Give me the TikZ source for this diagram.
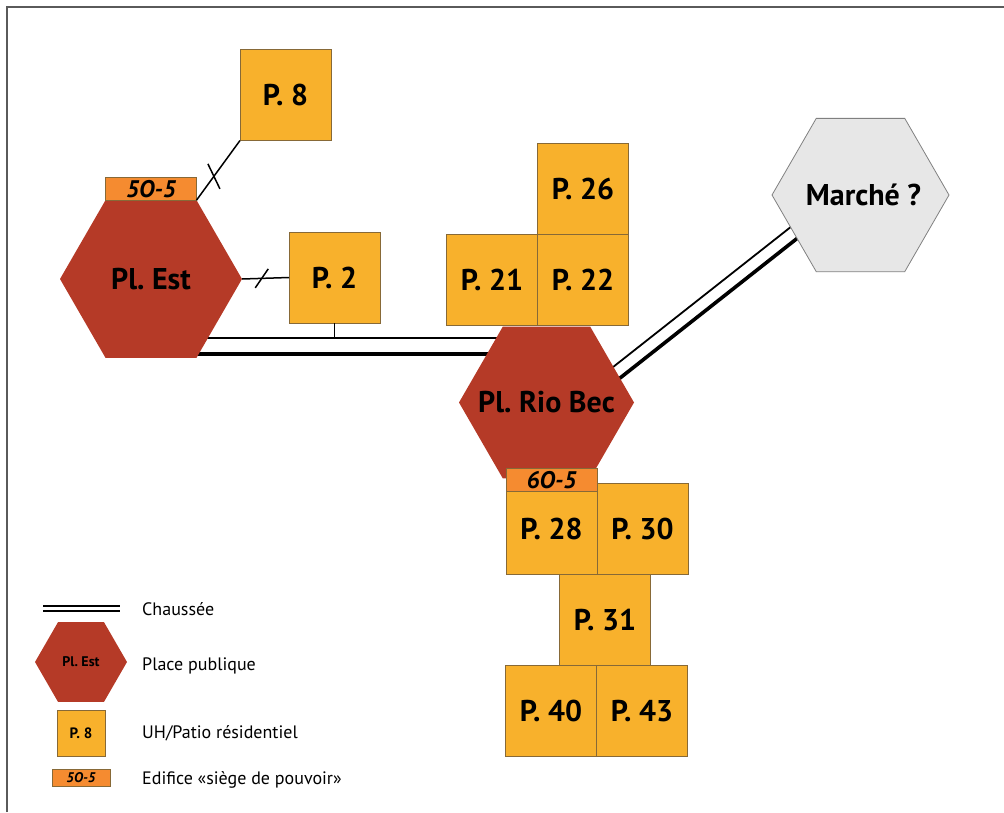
\documentclass[tikz,border=0pt]{standalone}
\usepackage{fontspec}
\setmainfont{PT Sans}
\usetikzlibrary{positioning,calc,shapes.geometric,backgrounds}
\definecolor{patioYel}{RGB}{248,177,44}
\definecolor{patioLine}{RGB}{135,105,55}
\definecolor{plazaRed}{RGB}{181,58,39}
\definecolor{seatOra}{RGB}{245,139,48}
\definecolor{marketGry}{RGB}{231,231,231}
\definecolor{frameGry}{RGB}{90,90,90}
\newcommand{\plfont}{\fontsize{30}{32}\selectfont\bfseries}
\newcommand{\hexlabel}[1]{\makebox[0pt]{#1}}
\tikzset{
  patio/.style={draw=patioLine, line width=0.8pt, fill=patioYel, minimum width=91pt, minimum height=91pt, inner sep=0pt, outer sep=0pt, font=\plfont},
  plaza/.style={regular polygon, regular polygon sides=6, fill=plazaRed, minimum size=182pt, inner sep=0pt, outer sep=0pt, font=\plfont},
  market/.style={regular polygon, regular polygon sides=6, draw=gray, fill=marketGry, line width=0.8pt, minimum size=177pt, inner sep=0pt, outer sep=0pt, font=\plfont},
  seat/.style={draw=patioLine, line width=0.6pt, fill=seatOra, minimum width=91pt, minimum height=23pt, inner sep=0pt, outer sep=0pt, font=\fontsize{24}{26}\selectfont\bfseries\itshape},
  link/.style={line width=1.5pt},
  roadthin/.style={line width=1.8pt},
  roadthick/.style={line width=3.6pt},
  legtext/.style={anchor=base west, inner sep=0pt, font=\fontsize{18}{20}\selectfont},
}
\begin{document}
\frenchspacing
\begin{tikzpicture}[x=1pt, y=-1pt]
\useasboundingbox (0,0) rectangle (1004,812);
\draw[frameGry, line width=2pt] (7,812) -- (7,7) -- (1004,7);
\node[plaza] (est) at (151,279) {\hexlabel{\raisebox{-5pt}{Pl. Est}}};
\node[seat, above=0pt of est] (s50) {5O-5};
\node[patio] (p8) at (285.5,95) {P. 8};
\node[patio] (p2) at (334.5,277.5) {P. 2};
\node[patio] (p26) at (583,189) {P. 26};
\node[patio, below=0pt of p26] (p22) {P. 22};
\node[patio, left=0pt of p22] (p21) {P. 21};
\node[plaza, minimum size=175pt] (riobec) at (546.5,402.5) {\hexlabel{Pl. Rio Bec}};
\node[market] (marche) at (860.5,195) {\hexlabel{\hspace{6pt}Marché ?}};
\node[patio] (p30) at (642.5,529) {P. 30};
\node[patio, left=0pt of p30] (p28) {P. 28};
\node[seat, anchor=north] (s60) at ([yshift=15pt]p28.north) {6O-5};
\node[patio, below=0pt of p30.south west, xshift=8pt] (p31) {P. 31};
\node[patio, below=0pt of p31.south west, xshift=-8.5pt] (p40) {P. 40};
\node[patio, right=0pt of p40] (p43) {P. 43};
\coordinate (roadN) at (0,338);
\coordinate (roadS) at (0,354);
\begin{scope}[on background layer]
\draw[roadthin] (est |- roadN) -- (riobec |- roadN);
\draw[roadthick] (est |- roadS) -- (riobec |- roadS);
\draw[roadthin] ($(riobec.center)+(0,17)$) -- ($(marche.center)+(0,-23)$);
\draw[roadthick] ($(riobec.center)+(0,33.5)$) -- ($(marche.center)+(0,-6.6)$);
\end{scope}
\draw[link] (p2.south) -- (p2.south |- roadN);
\draw[link] (est.east) -- (p2.west);
\draw[link] ($(est.east)!0.42!(p2.west)+(-6.5,9.5)$) -- ++(13,-19);
\draw[link] (s50.south east) -- (p8.south west);
\draw[link] ($(s50.south east)!0.4!(p8.south west)+(-6,-12.5)$) -- ++(12,25);
\draw[roadthin] (43,606) -- (120,606);
\draw[roadthin, line width=1.6pt] (43,611) -- (120,611);
\node[plaza, minimum size=92pt, font=\fontsize{14}{16}\selectfont\bfseries] (lgest) at (81,662) {\hexlabel{Pl. Est}};
\node[patio, minimum width=48pt, minimum height=46pt, font=\fontsize{15}{16}\selectfont\bfseries] (lgp8) at (81,733) {P. 8};
\node[seat, minimum width=58pt, minimum height=17pt, font=\fontsize{14}{15}\selectfont\bfseries\itshape] (lgs50) at (81,777.5) {5O-5};
\node[legtext] (txroad) at (142,615) {Chaussée};
\node[legtext] (txplace) at (142,670) {Place publique};
\node[legtext] (txpatio) at (142,738) {UH/Patio résidentiel};
\node[legtext] (txseat) at (142,784) {Edifice «siège de pouvoir»};
\end{tikzpicture}
\end{document}
